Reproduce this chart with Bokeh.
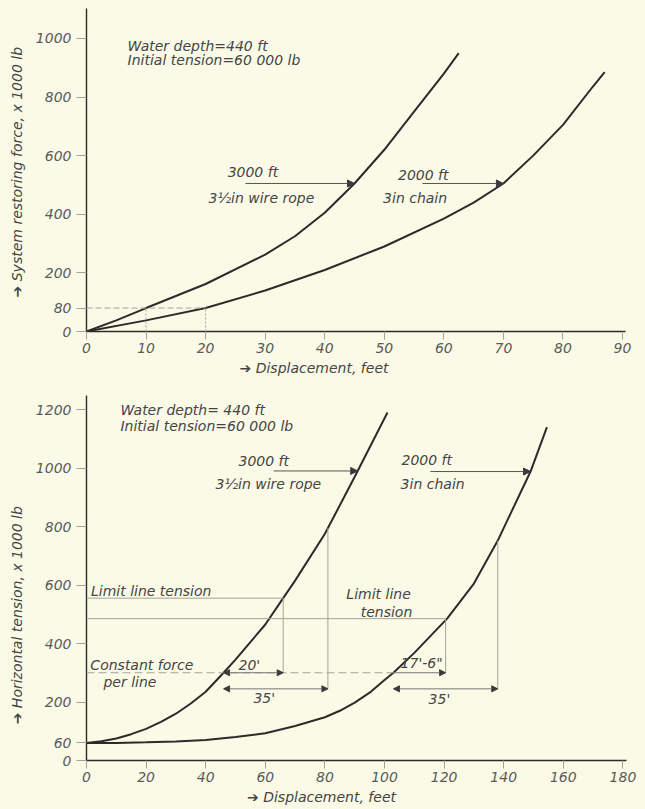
import numpy as np
from bokeh.plotting import figure
from bokeh.models import Range1d, FixedTicker, Label, Arrow, NormalHead
from bokeh.layouts import column
from bokeh.embed import file_html
from bokeh.resources import INLINE

# ---------------- data ----------------
# Top chart: system restoring force (x1000 lb) vs displacement (ft)
top_wire_x = [0, 5, 10, 20, 30, 35, 40, 45, 50, 55, 60, 62.5]
top_wire_y = [0, 38, 80, 162, 262, 325, 405, 505, 620, 750, 880, 950]
top_chain_x = [0, 10, 20, 30, 40, 50, 60, 65, 70, 75, 80, 85, 87]
top_chain_y = [0, 38, 80, 140, 210, 290, 385, 440, 505, 600, 705, 835, 885]
top_xticks = [0, 10, 20, 30, 40, 50, 60, 70, 80, 90]
top_yticks = [0, 80, 200, 400, 600, 800, 1000]
top_ref_force = 80          # dashed reference level
top_ref_x = [10, 20]        # displacement where wire / chain reach 80

# Bottom chart: horizontal tension (x1000 lb) vs displacement (ft)
bot_wire_x = [0, 5, 10, 15, 20, 25, 30, 35, 40, 46, 50, 60, 66, 70, 80, 90, 101]
bot_wire_y = [60, 66, 75, 90, 108, 132, 160, 195, 235, 300, 345, 465, 555, 615, 775, 970, 1190]
bot_chain_x = [0, 10, 20, 30, 40, 50, 60, 70, 80, 85, 90, 95, 100, 103, 110, 121, 130, 138, 149, 154.5]
bot_chain_y = [60, 60, 62, 65, 70, 80, 93, 118, 148, 170, 198, 232, 275, 300, 368, 485, 605, 752, 988, 1140]
bot_xticks = [0, 20, 40, 60, 80, 100, 120, 140, 160, 180]
bot_yticks = [0, 60, 200, 400, 600, 800, 1000, 1200]
const_force = 300
limit_wire = 555
limit_chain = 485
wire_const_x = 46
chain_const_x = 103
wire_dims = [20, 35]        # 20', 35'
chain_dims = [17.5, 35]     # 17'-6", 35'

# ---------------- style ----------------
BG = "#fbfae6"
INK = "#2b2b2b"
TXT = "#454545"
GREY = "#a3a39a"
FONT = "DejaVu Sans"
FS = "14px"
EM = "\u2003"


def base_fig(xmax, ymax, fw, fh, left, right, top, bottom, xticks, yticks, xlabel, ylabel):
    p = figure(output_backend="svg", toolbar_location=None,
               x_range=Range1d(0, xmax), y_range=Range1d(0, ymax),
               frame_width=fw, frame_height=fh,
               min_border_left=left, min_border_right=right,
               min_border_top=top, min_border_bottom=bottom)
    p.background_fill_color = BG
    p.border_fill_color = BG
    p.outline_line_color = None
    p.grid.visible = False
    for ax in (p.xaxis, p.yaxis):
        ax.axis_line_color = INK
        ax.axis_line_width = 1.4
        ax.major_tick_line_color = GREY
        ax.minor_tick_line_color = None
        ax.major_tick_in = 0
        ax.major_label_text_font = FONT
        ax.major_label_text_font_style = "italic"
        ax.major_label_text_font_size = "14px"
        ax.major_label_text_color = "#5a5a5a"
        ax.axis_label_text_font = FONT
        ax.axis_label_text_font_style = "italic"
        ax.axis_label_text_font_size = FS
        ax.axis_label_text_color = TXT
    p.xaxis.ticker = FixedTicker(ticks=xticks)
    p.yaxis.ticker = FixedTicker(ticks=yticks)
    p.xaxis.major_tick_out = 8
    p.xaxis.major_label_standoff = 3
    p.xaxis.axis_label_standoff = 4
    p.yaxis.major_tick_out = 10
    p.yaxis.major_label_standoff = 5
    p.yaxis.axis_label_standoff = 8
    p.xaxis.axis_label = xlabel
    p.yaxis.axis_label = ylabel
    return p


def txt(p, x, y, s, align="left"):
    p.add_layout(Label(x=x, y=y, text=s, text_align=align,
                       text_baseline="middle", text_font=FONT,
                       text_font_style="italic", text_font_size=FS,
                       text_color=TXT))


def seg(p, x0, y0, x1, y1, color=GREY, width=1, dash="solid", start=False, end=False, hs=7):
    p.add_layout(Arrow(x_start=x0, y_start=y0, x_end=x1, y_end=y1,
                       line_color=color, line_width=width, line_dash=dash,
                       start=NormalHead(size=hs, fill_color="#3a3a3a", line_color="#3a3a3a") if start else None,
                       end=NormalHead(size=hs, fill_color="#3a3a3a", line_color="#3a3a3a") if end else None))


# ================= top chart =================
p1 = base_fig(90.5, 1102, 539, 323, 86, 20, 8, 49, top_xticks, top_yticks,
              "\u2794 Displacement, feet" + EM * 6,
              "\u2794  System restoring force, x 1000 lb")

# reference dashed lines at 80
seg(p1, 0, top_ref_force, top_ref_x[1], top_ref_force, dash="6 3")
for xv in top_ref_x:
    seg(p1, xv, 0, xv, top_ref_force, dash="2 2")

p1.line(top_wire_x, top_wire_y, line_color=INK, line_width=2)
p1.line(top_chain_x, top_chain_y, line_color=INK, line_width=2)

txt(p1, 6.9, 973, "Water depth=440 ft")
txt(p1, 6.9, 925, "Initial tension=60 000 lb")

wx = 45
wy = float(np.interp(wx, top_wire_x, top_wire_y))
seg(p1, 26.7, wy, wx, wy, color="#555", end=True)
txt(p1, 23.7, wy + 38, "3000 ft")
txt(p1, 20.5, wy - 48, "3½in wire rope")

cx = 70
cy = float(np.interp(cx, top_chain_x, top_chain_y))
seg(p1, 56.4, cy, cx, cy, color="#555", end=True)
txt(p1, 52.3, cy + 30, "2000 ft")
txt(p1, 49.8, cy - 48, "3in chain")

# ================= bottom chart =================
p2 = base_fig(181.2, 1248, 540, 365, 83, 22, 15, 49, bot_xticks, bot_yticks,
              "\u2794 Displacement, feet" + EM * 5,
              "\u2794  Horizontal tension, x 1000 lb" + EM * 5)

w20 = wire_const_x + wire_dims[0]
w35 = wire_const_x + wire_dims[1]
c17 = chain_const_x + chain_dims[0]
c35 = chain_const_x + chain_dims[1]
# limit lines
seg(p2, 0, limit_wire, w20, limit_wire)
seg(p2, 0, limit_chain, c17, limit_chain)
# constant force dashed line
seg(p2, 0, const_force, chain_const_x, const_force, dash="8 4")

# verticals
seg(p2, w20, const_force, w20, limit_wire)
seg(p2, c17, const_force, c17, limit_chain)
dim_y = 245
seg(p2, w35, dim_y, w35, float(np.interp(w35, bot_wire_x, bot_wire_y)))
seg(p2, c35, dim_y, c35, float(np.interp(c35, bot_chain_x, bot_chain_y)))

# dimension arrows
seg(p2, wire_const_x, const_force, w20, const_force, color="#777", start=True, end=True, hs=6)
seg(p2, wire_const_x, dim_y, w35, dim_y, color="#777", start=True, end=True, hs=6)
seg(p2, chain_const_x, const_force, c17, const_force, color="#777", end=True, hs=6)
seg(p2, chain_const_x, dim_y, c35, dim_y, color="#777", start=True, end=True, hs=6)

p2.line(bot_wire_x, bot_wire_y, line_color=INK, line_width=2)
p2.line(bot_chain_x, bot_chain_y, line_color=INK, line_width=2)

txt(p2, 11.4, 1200, "Water depth= 440 ft")
txt(p2, 11.4, 1145, "Initial tension=60 000 lb")

wx2 = 91
wy2 = float(np.interp(wx2, bot_wire_x, bot_wire_y))
seg(p2, 62.8, wy2, wx2, wy2, color="#555", end=True)
txt(p2, 51, wy2 + 33, "3000 ft")
txt(p2, 43.3, wy2 - 45, "3½in wire rope")

cx2 = 149
cy2 = float(np.interp(cx2, bot_chain_x, bot_chain_y))
seg(p2, 115.4, cy2, cx2, cy2, color="#555", end=True)
txt(p2, 105.7, cy2 + 40, "2000 ft")
txt(p2, 105.4, cy2 - 42, "3in chain")

txt(p2, 1.5, 581, "Limit line tension")
txt(p2, 87.2, 571, "Limit line")
txt(p2, 92, 509, "tension")
txt(p2, 1.3, 325, "Constant force")
txt(p2, 5.7, 267, "per line")
txt(p2, 51, 325, "20'")
txt(p2, 56, 212, "35'")
txt(p2, 105.4, 332, "17'-6\"")
txt(p2, 114.8, 209, "35'")

layout = column(p1, p2, spacing=0, styles={"background-color": BG})
open("out.html", "w").write(file_html(layout, INLINE))
